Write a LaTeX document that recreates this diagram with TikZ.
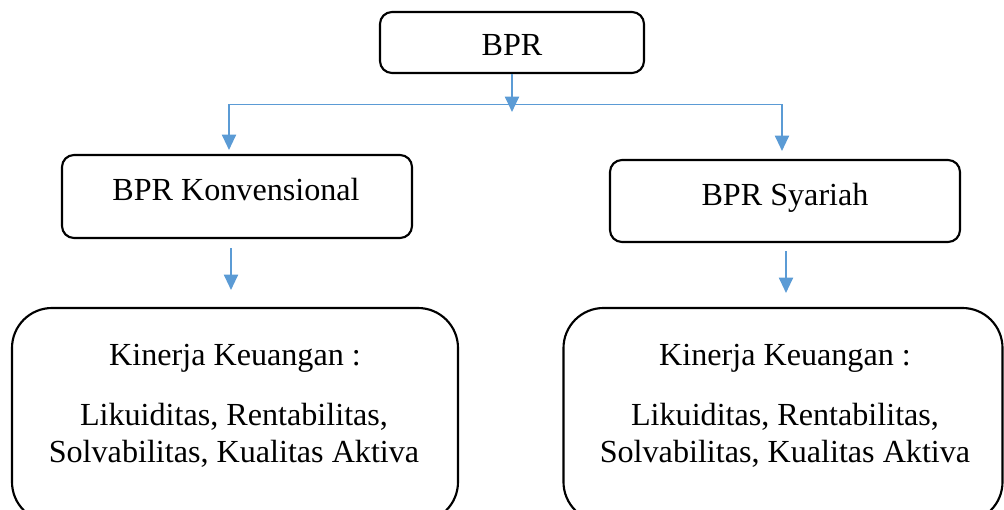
\documentclass[tikz,border=0pt]{standalone}
\usepackage{fontspec}
\setmainfont{Liberation Serif}
\usetikzlibrary{arrows.meta}
\definecolor{arrowblue}{HTML}{5B9BD5}
\tikzset{
  box/.style={draw=black, line width=1.6pt, rounded corners=#1, inner sep=0pt},
  box/.default=9pt,
  lbl/.style={font=\fontsize{24.1pt}{29pt}\selectfont, inner sep=0pt, anchor=base},
  conn/.style={draw=arrowblue, line width=1.5pt},
  arr/.style={conn, -{Triangle[width=10.5pt,length=11.5pt]}},
}
\begin{document}
\begin{tikzpicture}[x=0.75pt,y=-0.75pt]
\useasboundingbox (0,0) rectangle (1004,510);
\clip (0,0) rectangle (1004,510);
% boxes
\node[box, minimum width=264*0.75pt, minimum height=61*0.75pt] (bpr) at (512,42.5) {};
\node[box, minimum width=350*0.75pt, minimum height=83*0.75pt] (konv) at (237,196.5) {};
\node[box, minimum width=350*0.75pt, minimum height=82*0.75pt] (syar) at (785,201) {};
\node[box=30pt, minimum width=446*0.75pt, minimum height=214*0.75pt] (kl) at (235,415) {};
\node[box=30pt, minimum width=439*0.75pt, minimum height=214*0.75pt] (kr) at (783,415) {};
% texts
\node[lbl] (tbpr) at (512,56) {BPR};
\node[lbl] (tkonv) at (236,200) {BPR Konvensional};
\node[lbl] (tsyar) at (785,205) {BPR Syariah};
\node[lbl] (tkl1) at (235,365) {Kinerja Keuangan :};
\node[lbl] (tkl2) at (234,425) {Likuiditas, Rentabilitas,};
\node[lbl] (tkl3) at (234,462) {Solvabilitas, Kualitas Aktiva};
\node[lbl] (tkr1) at (785,365) {Kinerja Keuangan :};
\node[lbl] (tkr2) at (785,425) {Likuiditas, Rentabilitas,};
\node[lbl] (tkr3) at (785,462) {Solvabilitas, Kualitas Aktiva};
% connectors
\coordinate (jn) at (512,112);
\coordinate (hl) at (229,104.5);
\coordinate (hr) at (782,104.5);
\coordinate (tl) at (229,150);
\coordinate (tr) at (782,151);
\coordinate (s1) at (231,248);
\coordinate (e1) at (231,290);
\coordinate (s2) at (786,251);
\coordinate (e2) at (786,293);
\draw[conn, line width=1.1pt] (hl) -- (hr);
\draw[arr] (bpr.south) -- (jn);
\draw[arr] (hl) -- (tl);
\draw[arr] (hr) -- (tr);
\draw[arr] (s1) -- (e1);
\draw[arr] (s2) -- (e2);
\end{tikzpicture}
\end{document}
